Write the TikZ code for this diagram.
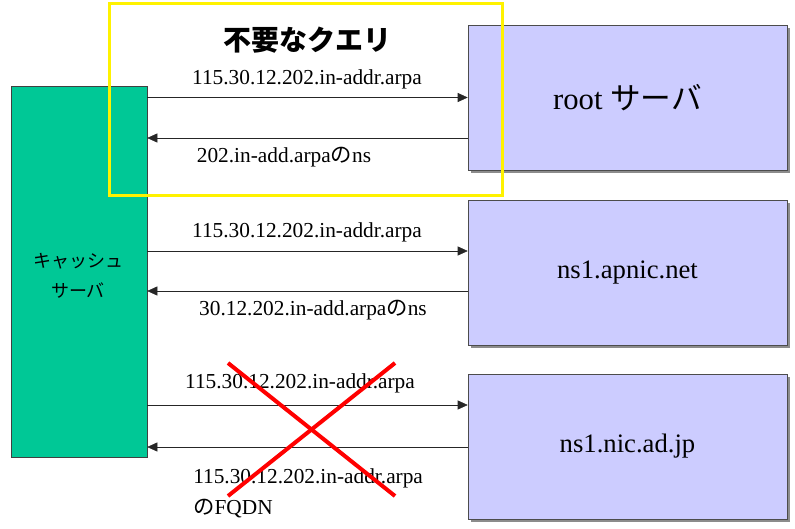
\documentclass[tikz,border=0pt]{standalone}
\usepackage{fontspec}
\setmainfont{Liberation Serif}
\newfontfamily\jpfont{Noto Sans CJK JP}
\usepackage{tikz}
\usetikzlibrary{arrows.meta,calc,shadows}
\definecolor{Cache}{RGB}{0,200,150}
\definecolor{Server}{RGB}{204,204,255}

\begin{document}
\begin{tikzpicture}[x=0.75pt, y=-0.75pt,
    server/.style={draw=black!70, fill=Server, minimum width=239.25pt, minimum height=108.75pt,
        drop shadow={shadow xshift=2.25pt, shadow yshift=-2.25pt, fill=black!45, opacity=1}},
    msg/.style={draw=black!85, -{Triangle[length=7.5pt, width=6.75pt]}},
    lbl/.style={inner sep=0pt, font=\rmfamily\fontsize{16}{23}\selectfont}]
    %% Background
    \useasboundingbox (0,0) rectangle (795,528);

    %% Servers
    \node[draw=black!75, fill=Cache, minimum width=102pt, minimum height=278.25pt]
        (cache) at (79,271.5) {};
    \node[align=center, font=\jpfont\fontsize{13.5}{22.5}\selectfont]
        (cachelbl) at (78,275.5) {キャッシュ\\サーバ};
    \node[server, font=\rmfamily\fontsize{23}{27}\selectfont] (root) at (627.5,97.5) {root {\jpfont サーバ}};
    \node[server, font=\rmfamily\fontsize{20}{24}\selectfont] (apnic) at (627.5,272.5) {ns1.apnic.net};
    \node[server, font=\rmfamily\fontsize{20}{24}\selectfont] (nic) at (627.5,446.5) {ns1.nic.ad.jp};

    %% Queries
    \coordinate (r1) at (root.west);
    \coordinate (r2) at ($(root.west)+(0,40.5)$);
    \coordinate (p1) at ($(apnic.west)+(0,-21.5)$);
    \coordinate (p2) at ($(apnic.west)+(0,18.5)$);
    \coordinate (n1) at ($(nic.west)+(0,-41.5)$);
    \coordinate (n2) at ($(nic.west)+(0,0.5)$);

    \draw[msg] (cache.east |- r1) -- (r1);
    \draw[msg] (r2) -- (cache.east |- r2);
    \draw[msg] (cache.east |- p1) -- (p1);
    \draw[msg] (p2) -- (cache.east |- p2);
    \draw[msg] (cache.east |- n1) -- (n1);
    \draw[msg] (n2) -- (cache.east |- n2);

    \node[lbl] (q1) at (307,79) {115.30.12.202.in-addr.arpa};
    \node[lbl] (a1) at (284,157) {202.in-add.arpa{\jpfont の}ns};
    \node[lbl] (q2) at (307,232) {115.30.12.202.in-addr.arpa};
    \node[lbl] (a2) at (313,310) {30.12.202.in-add.arpa{\jpfont の}ns};
    \node[lbl] (q3) at (300,383) {115.30.12.202.in-addr.arpa};
    \node[lbl, align=left, anchor=west] (a3) at (193,493) {115.30.12.202.in-addr.arpa\\{\jpfont の}FQDN};

    %% Unneeded query
    \draw[yellow, line width=2.25pt] (109,4) rectangle (502,195);
    \node[font=\jpfont\bfseries\fontsize{21}{25}\selectfont] (title) at (307,40) {不要なクエリ};

    %% Cross
    \draw[red, line width=3pt] (228,363) -- (395,496);
    \draw[red, line width=3pt] (395,363) -- (228,496);
\end{tikzpicture}
\end{document}
